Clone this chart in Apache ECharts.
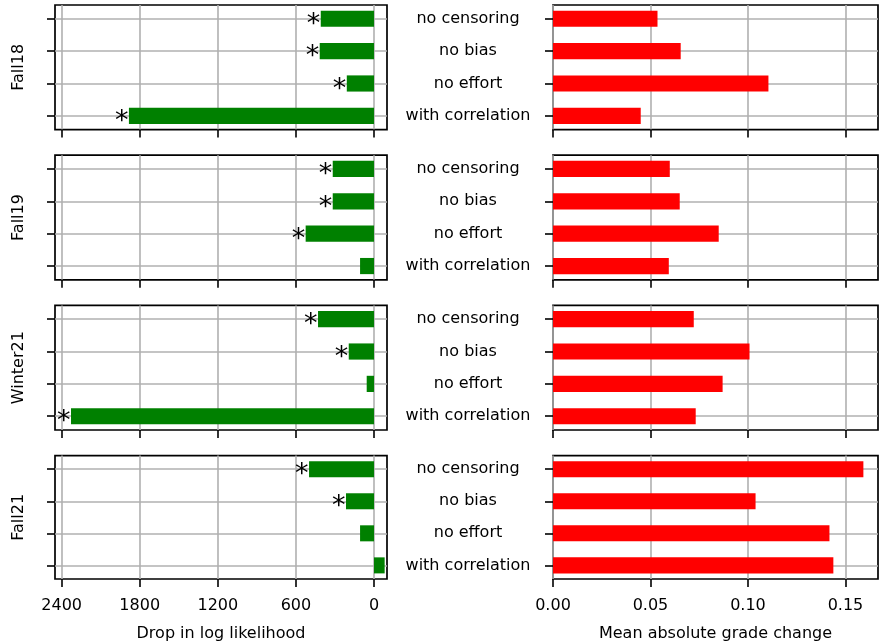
<!DOCTYPE html>
<html><head><meta charset="utf-8">
<script src="https://cdn.jsdelivr.net/npm/echarts@6/dist/echarts.min.js"></script>
<style>html,body{margin:0;padding:0;background:#fff}#c{width:879px;height:643px}</style>
</head><body><div id="c"></div>
<script>
const categories = ['no censoring', 'no bias', 'no effort', 'with correlation'];
const seasons = ['Fall18', 'Fall19', 'Winter21', 'Fall21'];

const llDropFall18 = [409, 417, 209, 1883];
const llDropFall19 = [317, 317, 525, 107];
const llDropWinter21 = [430, 194, 56, 2328];
const llDropFall21 = [499, 215, 107, -82];

const sigFall18 = [1, 1, 1, 1];
const sigFall19 = [1, 1, 1, 0];
const sigWinter21 = [1, 1, 0, 1];
const sigFall21 = [1, 1, 0, 0];

const gradeFall18 = [0.0536, 0.0655, 0.1105, 0.0450];
const gradeFall19 = [0.0599, 0.0650, 0.0850, 0.0594];
const gradeWinter21 = [0.0722, 0.1008, 0.0870, 0.0732];
const gradeFall21 = [0.1592, 0.1039, 0.1418, 0.1438];

const llTicks = [0, 600, 1200, 1800, 2400];
const gradeTicks = [0, 0.05, 0.10, 0.15];

const llDrop = [llDropFall18, llDropFall19, llDropWinter21, llDropFall21];
const sig = [sigFall18, sigFall19, sigWinter21, sigFall21];
const grade = [gradeFall18, gradeFall19, gradeWinter21, gradeFall21];

const FONT = 'DejaVu Sans';
const FS = 16;
const rowTops = [5, 155.2, 305.4, 455.6];
const rowH = 124.6;
const catIdx = categories.map((c, i) => i);

const chart = echarts.init(document.getElementById('c'), null, {renderer: 'canvas'});

const grids = [], xAxes = [], yAxes = [], series = [];

function makeRender(color) {
  return function (params, api) {
    const v = api.value(0), i = api.value(1), s = api.value(2);
    const p0 = api.coord([0, i]);
    const p1 = api.coord([v, i]);
    const h = api.size([0, 0.5])[1];
    const children = [{
      type: 'rect',
      shape: {x: Math.min(p0[0], p1[0]), y: p0[1] - h / 2, width: Math.abs(p1[0] - p0[0]), height: h},
      style: {fill: color}
    }];
    if (s) {
      children.push({
        type: 'text',
        style: {text: '*', x: Math.min(p0[0], p1[0]) - 0.5, y: p0[1] + 6.2, align: 'right', verticalAlign: 'middle',
          fontFamily: FONT, fontSize: 27, fill: '#000'}
      });
    }
    return {type: 'group', children: children};
  };
}

for (let r = 0; r < 4; r++) {
  const last = r === 3;
  for (let c = 0; c < 2; c++) {
    const gi = grids.length;
    grids.push({
      left: c === 0 ? 55 : 553, width: c === 0 ? 332 : 325,
      top: rowTops[r], height: rowH,
      show: true, borderColor: '#000', borderWidth: 1.7, backgroundColor: 'transparent'
    });
    const ticks = c === 0 ? llTicks : gradeTicks;
    xAxes.push({
      type: 'value', gridIndex: gi, position: 'bottom',
      inverse: c === 0,
      min: c === 0 ? -100 : 0, max: c === 0 ? 2451 : 0.1667,
      axisLine: {show: false, onZero: false},
      axisTick: {show: true, length: 8, lineStyle: {color: '#000', width: 1.6}, customValues: ticks},
      axisLabel: {show: last, customValues: ticks, margin: 19, fontFamily: FONT, fontSize: FS, color: '#000',
        formatter: c === 0 ? (v => String(v)) : (v => v.toFixed(2))},
      splitLine: {show: true, lineStyle: {color: '#b0b0b0', width: 1.6}},
      name: last ? (c === 0 ? 'Drop in log likelihood' : 'Mean absolute grade change') : '',
      nameLocation: 'middle', nameGap: 47,
      nameTextStyle: {fontFamily: FONT, fontSize: FS, color: '#000'}
    });
    yAxes.push({
      type: 'value', gridIndex: gi, position: 'left', inverse: true,
      min: -0.425, max: 3.425,
      axisLine: {show: false, onZero: false},
      axisTick: {show: true, length: 8, lineStyle: {color: '#000', width: 1.6}, customValues: catIdx},
      axisLabel: {show: c === 1, customValues: catIdx, formatter: v => categories[v] || '',
        align: 'center', margin: 85, fontFamily: FONT, fontSize: FS, color: '#000'},
      splitLine: {show: true, lineStyle: {color: '#b0b0b0', width: 1.6}},
      name: c === 0 ? seasons[r] : '',
      nameLocation: 'middle', nameGap: 28, nameRotate: 90,
      nameTextStyle: {fontFamily: FONT, fontSize: FS, color: '#000'}
    });
    const vals = c === 0 ? llDrop[r] : grade[r];
    series.push({
      type: 'custom', xAxisIndex: gi, yAxisIndex: gi,
      renderItem: makeRender(c === 0 ? '#008000' : '#ff0000'),
      encode: {x: 0, y: 1},
      data: vals.map((v, i) => [v, i, c === 0 ? sig[r][i] : 0]),
      silent: true, animation: false
    });
  }
}

chart.setOption({
  animation: false,
  grid: grids, xAxis: xAxes, yAxis: yAxes, series: series
});
</script>
</body></html>
